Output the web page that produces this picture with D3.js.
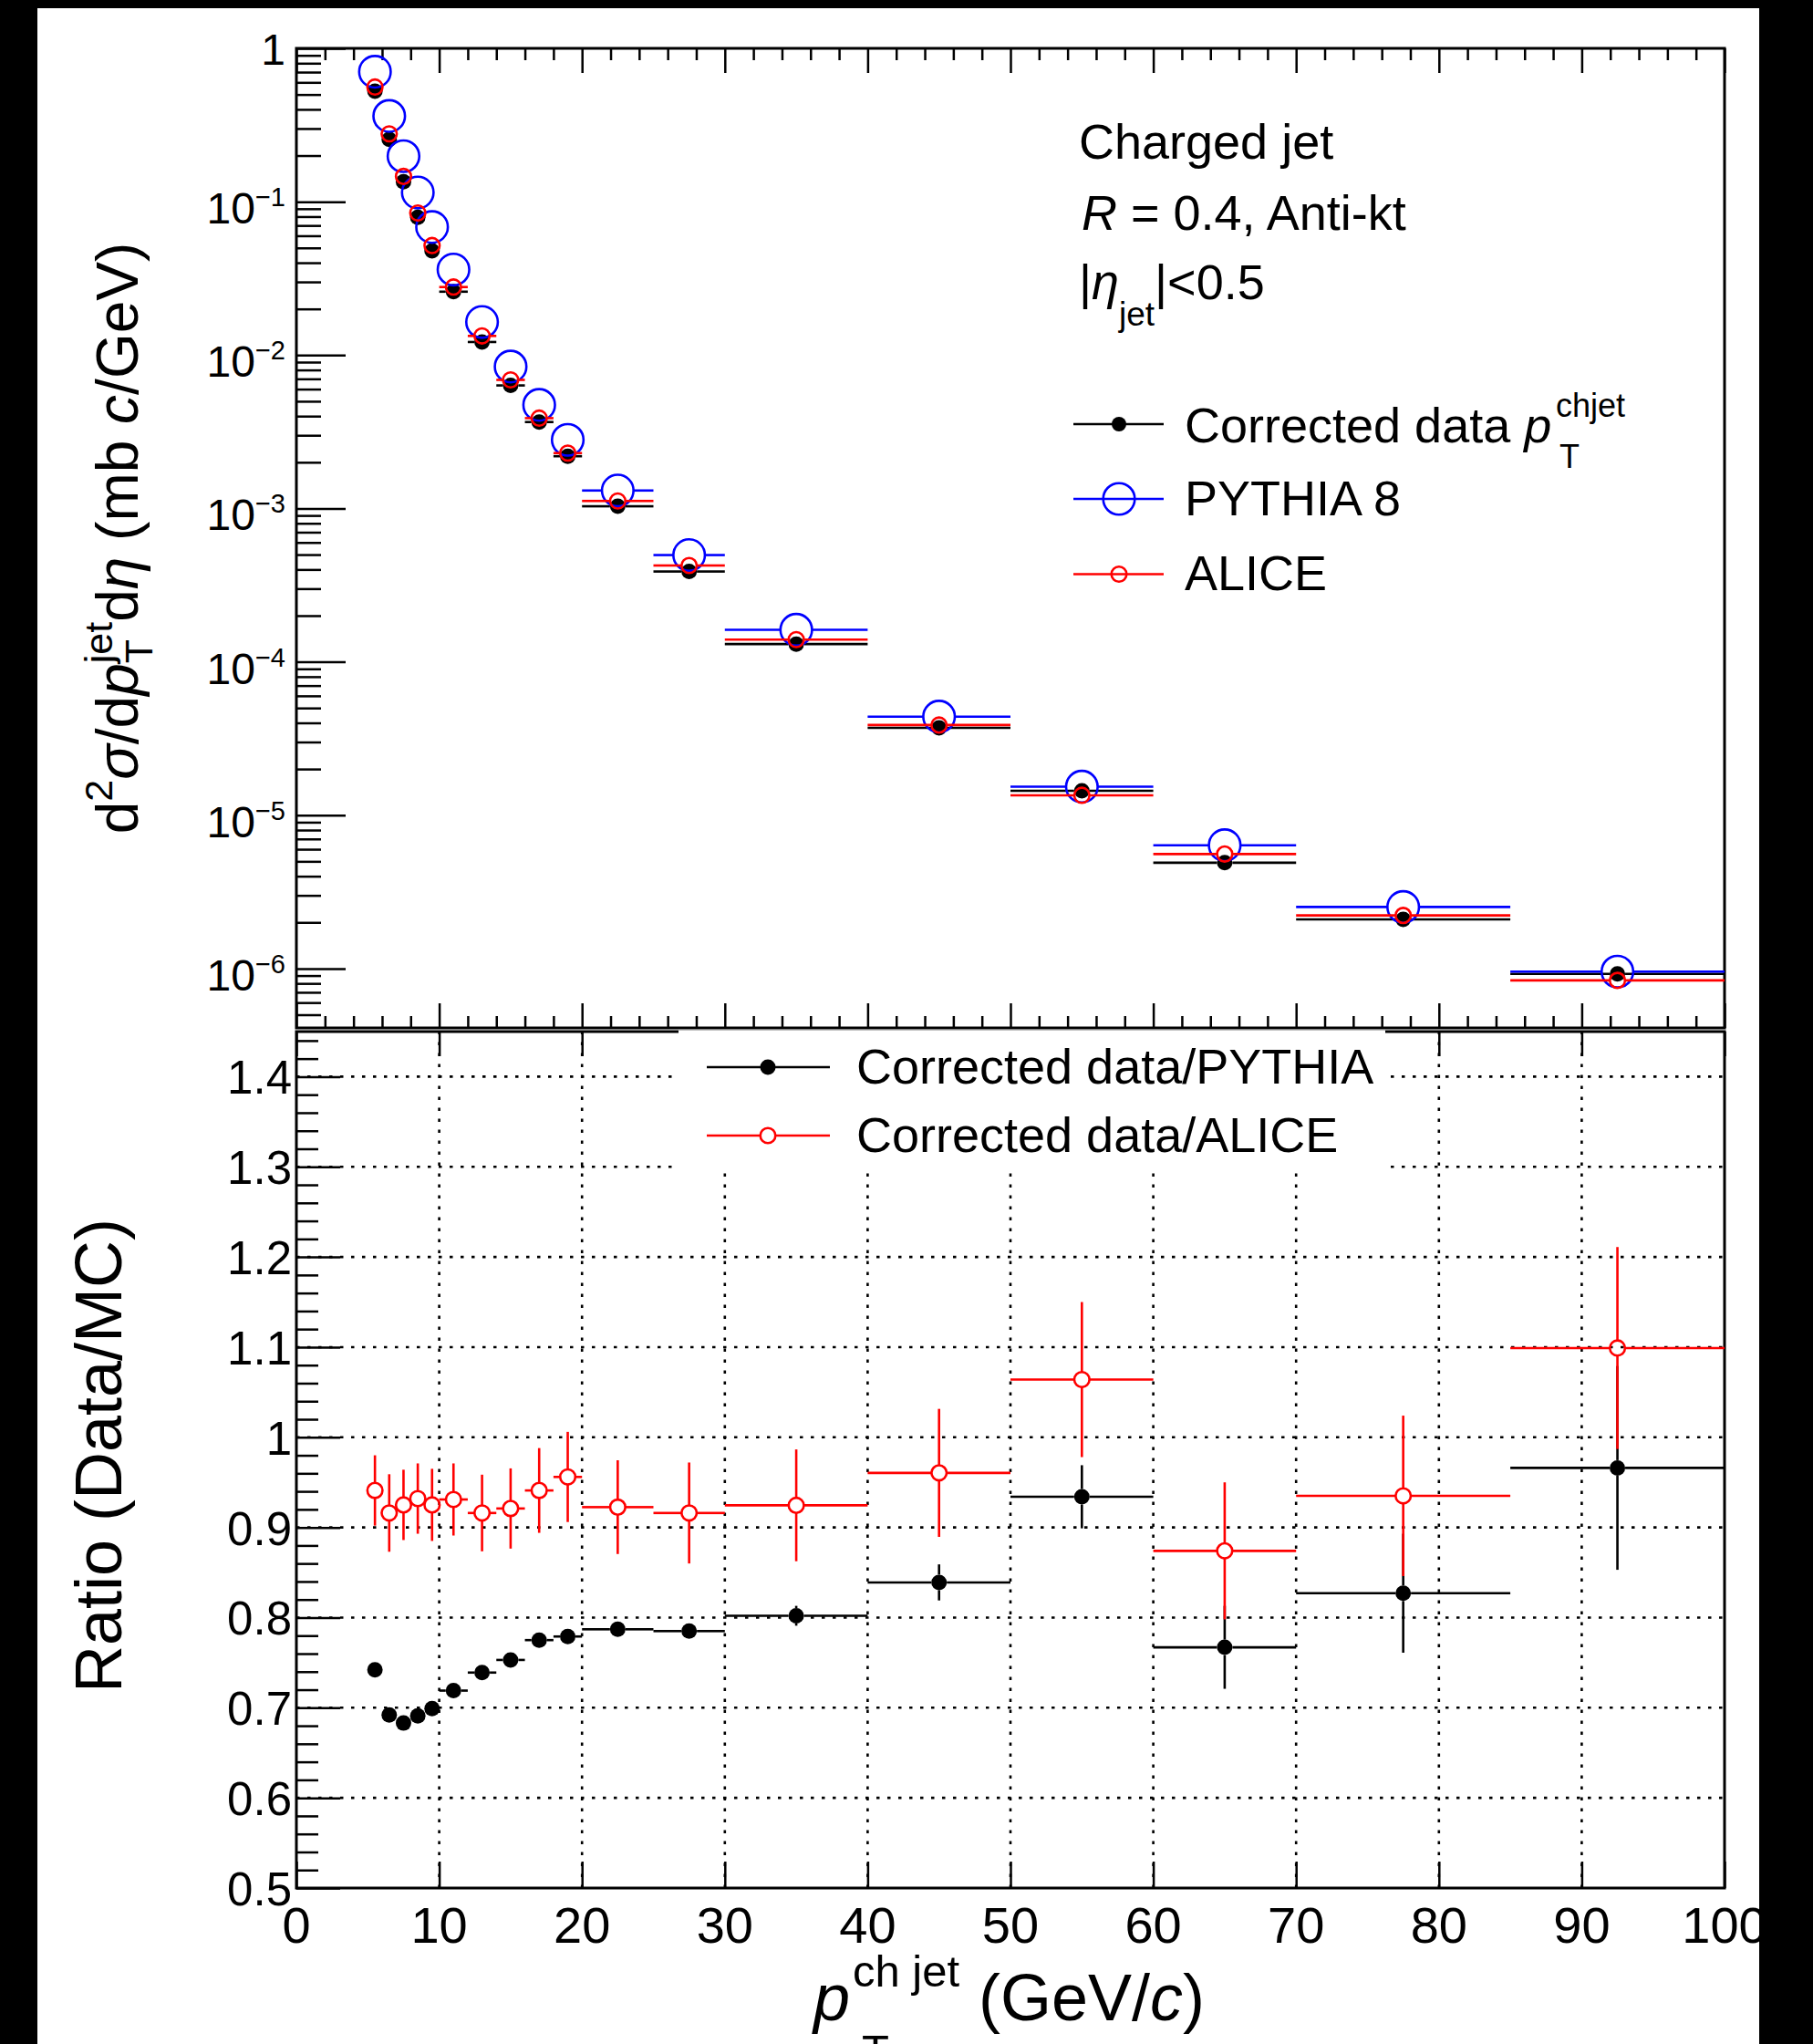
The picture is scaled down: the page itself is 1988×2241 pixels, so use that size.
<!DOCTYPE html>
<html><head><meta charset="utf-8">
<script src="https://cdn.jsdelivr.net/npm/d3@7"></script>
<style>
html,body{margin:0;padding:0;background:#fff;}
svg{display:block;}
text{font-family:"Liberation Sans", Arial, Helvetica, sans-serif;fill:#000;}
</style></head><body>
<svg id="c" width="1988" height="2241"></svg>
<script>
// ---------------- data ----------------
const binLow    = [5,6,7,8,9,10,12,14,16,18,20,25,30,40,50,60,70,85];
const binHigh   = [6,7,8,9,10,12,14,16,18,20,25,30,40,50,60,70,85,100];
const binCenter = [5.5,6.5,7.5,8.5,9.5,11,13,15,17,19,22.5,27.5,35,45,55,65,77.5,92.5];

const dataXsec   = [0.525,0.255,0.135,0.079,0.0478,0.0259,0.01217,0.00634,0.00366,0.00219,1.033e-3,3.88e-4,1.305e-4,3.71e-5,1.443e-5,4.90e-6,2.09e-6,9.23e-7];
const pythiaXsec = [0.704,0.362,0.198,0.1148,0.0684,0.0361,0.01643,0.00841,0.00473,0.0028,1.309e-3,4.966e-4,1.618e-4,4.39e-5,1.535e-5,6.37e-6,2.52e-6,9.55e-7];
const aliceXsec  = [0.559,0.277,0.1462,0.0844,0.0518,0.02777,0.01333,0.00689,0.00388,0.002296,1.119e-3,4.246e-4,1.396e-4,3.87e-5,1.348e-5,5.58e-6,2.22e-6,8.37e-7];

const ratioPythia    = [0.742,0.692,0.683,0.691,0.699,0.719,0.739,0.753,0.775,0.779,0.787,0.785,0.802,0.839,0.934,0.767,0.827,0.966];
const ratioPythiaErr = [0.003,0.003,0.003,0.003,0.003,0.004,0.004,0.004,0.005,0.005,0.006,0.006,0.011,0.020,0.035,0.046,0.066,0.113];
const ratioAlice     = [0.941,0.916,0.925,0.932,0.925,0.931,0.916,0.921,0.941,0.956,0.9225,0.916,0.9245,0.9605,1.064,0.874,0.935,1.099];
const ratioAliceErr  = [0.039,0.043,0.039,0.039,0.040,0.040,0.0425,0.0445,0.047,0.050,0.052,0.056,0.062,0.071,0.086,0.076,0.089,0.112];

const xMajorTicks = [0,10,20,30,40,50,60,70,80,90,100];
const xTickLabels = ["0","10","20","30","40","50","60","70","80","90","100"];
const xMinorTicks = [2,4,6,8,12,14,16,18,22,24,26,28,32,34,36,38,42,44,46,48,52,54,56,58,62,64,66,68,72,74,76,78,82,84,86,88,92,94,96,98];
const logMajorTicks = [1,1e-1,1e-2,1e-3,1e-4,1e-5,1e-6];
const logExponents  = [0,-1,-2,-3,-4,-5,-6];
const ratioMajorTicks = [0.5,0.6,0.7,0.8,0.9,1.0,1.1,1.2,1.3,1.4];
const ratioTickLabels = ["0.5","0.6","0.7","0.8","0.9","1","1.1","1.2","1.3","1.4"];
const ratioMinorTicks = [0.52,0.54,0.56,0.58,0.62,0.64,0.66,0.68,0.72,0.74,0.76,0.78,0.82,0.84,0.86,0.88,0.92,0.94,0.96,0.98,1.02,1.04,1.06,1.08,1.12,1.14,1.16,1.18,1.22,1.24,1.26,1.28,1.32,1.34,1.36,1.38,1.42,1.44];

// ---------------- layout ----------------
const svg = d3.select("#c");
const X0=325, X1=1891, UT=53, UB=1127, LT=1131, LB=2070;
const x  = d3.scaleLinear().domain([0,100]).range([X0,X1]);
const yU = d3.scaleLog().domain([4.1e-7,1]).range([UB,UT]);
const yL = d3.scaleLinear().domain([0.5,1.45]).range([LB,LT]);
const BLUE="#0000ff", RED="#ff0000", BLACK="#000000";

svg.append("rect").attr("width",1988).attr("height",2241).attr("fill","#fff");

function drawAxis(gen, transform, values, size){
  svg.append("g").attr("transform",transform)
    .call(gen.tickValues(values).tickSizeInner(size).tickSizeOuter(0).tickFormat(""))
    .call(g=>g.select(".domain").remove())
    .call(g=>g.selectAll("line").attr("stroke","#000").attr("stroke-width",2.5));
}
function seg(x1,y1,x2,y2,color,w){
  svg.append("line").attr("x1",x1).attr("y1",y1).attr("x2",x2).attr("y2",y2)
    .attr("stroke",color).attr("stroke-width",w||2.6);
}

// ---------------- lower pad grid ----------------
const grid = svg.append("g");
xMajorTicks.filter(v=>v>0 && v<100).forEach(v=>{
  grid.append("line").attr("x1",x(v)).attr("x2",x(v)).attr("y1",LB).attr("y2",LT)
    .attr("stroke","#000").attr("stroke-width",2.6).attr("stroke-dasharray","3.5 8.5");
});
ratioMajorTicks.filter(v=>v>0.5).forEach(v=>{
  grid.append("line").attr("x1",X0).attr("x2",X1).attr("y1",yL(v)).attr("y2",yL(v))
    .attr("stroke","#000").attr("stroke-width",2.6).attr("stroke-dasharray","3.5 8.5");
});

// ---------------- frames & axes ----------------
svg.append("rect").attr("x",X0).attr("y",UT).attr("width",X1-X0).attr("height",UB-UT)
  .attr("fill","none").attr("stroke","#000").attr("stroke-width",3);
svg.append("rect").attr("x",X0).attr("y",LT).attr("width",X1-X0).attr("height",LB-LT)
  .attr("fill","none").attr("stroke","#000").attr("stroke-width",3);

drawAxis(d3.axisBottom(x), `translate(0,${UB})`, xMajorTicks, -27);
drawAxis(d3.axisBottom(x), `translate(0,${UB})`, xMinorTicks, -13);
drawAxis(d3.axisTop(x), `translate(0,${UT})`, xMajorTicks, -27);
drawAxis(d3.axisTop(x), `translate(0,${UT})`, xMinorTicks, -13);
const logMinor = yU.ticks().filter(v=>!logMajorTicks.some(m=>Math.abs(v/m-1)<1e-6));
drawAxis(d3.axisLeft(yU), `translate(${X0},0)`, logMajorTicks, -54);
drawAxis(d3.axisLeft(yU), `translate(${X0},0)`, logMinor, -27);
drawAxis(d3.axisBottom(x), `translate(0,${LB})`, xMajorTicks, -29);
drawAxis(d3.axisTop(x), `translate(0,${LT})`, xMajorTicks, -27);
drawAxis(d3.axisLeft(yL), `translate(${X0},0)`, ratioMajorTicks, -48);
drawAxis(d3.axisLeft(yL), `translate(${X0},0)`, ratioMinorTicks, -24);

// tick labels
logMajorTicks.forEach((v,i)=>{
  const t = svg.append("text").attr("text-anchor","end").attr("x",313).attr("font-size",48);
  if(logExponents[i]===0){ t.attr("y",yU(v)+18).text("1"); }
  else{
    t.attr("y",yU(v)+24);
    t.append("tspan").text("10");
    t.append("tspan").attr("font-size",29).attr("dy",-19).text("\u2212"+Math.abs(logExponents[i]));
  }
});
ratioMajorTicks.forEach((v,i)=>{
  svg.append("text").attr("text-anchor","end").attr("x",320).attr("y",yL(v)+19)
    .attr("font-size",51).text(ratioTickLabels[i]);
});
xMajorTicks.forEach((v,i)=>{
  svg.append("text").attr("text-anchor","middle").attr("x",x(v)).attr("y",2130)
    .attr("font-size",56).text(xTickLabels[i]);
});

// ---------------- upper pad data ----------------
function drawXsec(vals, color, r, filled){
  const g = svg.append("g");
  binCenter.forEach((c,i)=>{
    const cx=x(c), cy=yU(vals[i]), xl=x(binLow[i]), xh=x(binHigh[i]);
    if(cx-r>xl) seg(xl,cy,cx-r,cy,color);
    if(xh>cx+r) seg(cx+r,cy,xh,cy,color);
    g.append("circle").attr("cx",cx).attr("cy",cy).attr("r",r)
      .attr("fill",filled?color:"none").attr("stroke",color).attr("stroke-width",filled?0:2.6);
  });
}
drawXsec(dataXsec, BLACK, 8.5, true);
drawXsec(pythiaXsec, BLUE, 17.3, false);
drawXsec(aliceXsec, RED, 8.3, false);

// ---------------- lower pad data ----------------
function drawRatio(vals, errs, color, r, filled){
  binCenter.forEach((c,i)=>{
    const cx=x(c), cy=yL(vals[i]), xl=x(binLow[i]), xh=x(binHigh[i]);
    const yt=yL(vals[i]+errs[i]), yb=yL(vals[i]-errs[i]);
    if(cx-r>xl) seg(xl,cy,cx-r,cy,color);
    if(xh>cx+r) seg(cx+r,cy,xh,cy,color);
    if(cy-r>yt) seg(cx,cy-r,cx,yt,color);
    if(yb>cy+r) seg(cx,cy+r,cx,yb,color);
    svg.append("circle").attr("cx",cx).attr("cy",cy).attr("r",r)
      .attr("fill",filled?color:"none").attr("stroke",color).attr("stroke-width",filled?0:2.6);
  });
}
drawRatio(ratioPythia, ratioPythiaErr, BLACK, 8.5, true);
drawRatio(ratioAlice, ratioAliceErr, RED, 8.3, false);

// ---------------- lower legend ----------------
svg.append("rect").attr("x",744).attr("y",1129.5).attr("width",775).attr("height",152).attr("fill","#fff");
seg(775,1170,910,1170,BLACK);
svg.append("circle").attr("cx",842).attr("cy",1170).attr("r",8.5).attr("fill",BLACK);
svg.append("text").attr("x",939).attr("y",1188).attr("font-size",54).text("Corrected data/PYTHIA");
seg(775,1245,910,1245,RED);
svg.append("circle").attr("cx",842).attr("cy",1245).attr("r",8.3).attr("fill","#fff").attr("stroke",RED).attr("stroke-width",2.6);
svg.append("text").attr("x",939).attr("y",1263).attr("font-size",54).text("Corrected data/ALICE");

// ---------------- upper texts ----------------
svg.append("text").attr("x",1183).attr("y",174).attr("font-size",54).text("Charged jet");
{
  const t=svg.append("text").attr("x",1186).attr("y",252).attr("font-size",54);
  t.append("tspan").attr("font-style","italic").text("R");
  t.append("tspan").text(" = 0.4, Anti-kt");
}
{
  const t=svg.append("text").attr("x",1183).attr("y",328).attr("font-size",54);
  t.append("tspan").text("|");
  t.append("tspan").attr("font-style","italic").text("\u03B7");
  t.append("tspan").attr("font-size",37).attr("dy",29).text("jet");
  t.append("tspan").attr("dy",-29).text("|<0.5");
}
seg(1177,465,1276,465,BLACK);
svg.append("circle").attr("cx",1227).attr("cy",465).attr("r",8).attr("fill",BLACK);
{
  const t=svg.append("text").attr("x",1299).attr("y",485).attr("font-size",54);
  t.append("tspan").text("Corrected data ");
  t.append("tspan").attr("font-style","italic").text("p");
  svg.append("text").attr("x",1706).attr("y",457).attr("font-size",36).text("chjet");
  svg.append("text").attr("x",1710).attr("y",513).attr("font-size",36).text("T");
}
seg(1177,547,1276,547,BLUE);
svg.append("circle").attr("cx",1227).attr("cy",547).attr("r",17.3).attr("fill","none").attr("stroke",BLUE).attr("stroke-width",2.6);
svg.append("text").attr("x",1299).attr("y",565).attr("font-size",54).text("PYTHIA 8");
seg(1177,629.5,1276,629.5,RED);
svg.append("circle").attr("cx",1227).attr("cy",629.5).attr("r",8.3).attr("fill","none").attr("stroke",RED).attr("stroke-width",2.6);
svg.append("text").attr("x",1299).attr("y",647).attr("font-size",54).text("ALICE");

// ---------------- axis titles ----------------
{
  const t=svg.append("text").attr("transform","translate(151,590) rotate(-90)")
    .attr("text-anchor","middle").attr("font-size",64);
  t.append("tspan").text("d");
  t.append("tspan").attr("font-size",43).attr("dy",-28).text("2");
  t.append("tspan").attr("dy",28).attr("font-style","italic").text("\u03C3");
  t.append("tspan").text("/d");
  t.append("tspan").attr("font-style","italic").text("p");
  const sup=t.append("tspan").attr("font-size",43).attr("dy",-28).text("jet");
  const sub=t.append("tspan").attr("font-size",43).attr("dy",44).text("T");
  const rest=t.append("tspan").attr("dy",-16).text("d");
  t.append("tspan").attr("font-style","italic").text("\u03B7");
  t.append("tspan").text(" (mb ");
  t.append("tspan").attr("font-style","italic").text("c");
  t.append("tspan").text("/GeV)");
  const supL=sup.node().getComputedTextLength(), subL=sub.node().getComputedTextLength();
  sub.attr("dx",-supL);
  rest.attr("dx",Math.max(0,supL-subL));
}
svg.append("text").attr("transform","translate(133,1596) rotate(-90)")
  .attr("text-anchor","middle").attr("font-size",72).text("Ratio (Data/MC)");
{
  svg.append("text").attr("x",892).attr("y",2215).attr("font-size",72).attr("font-style","italic").text("p");
  svg.append("text").attr("x",935).attr("y",2178).attr("font-size",49).text("ch jet");
  svg.append("text").attr("x",945).attr("y",2265).attr("font-size",49).text("T");
  const t=svg.append("text").attr("x",1073).attr("y",2215).attr("font-size",72);
  t.append("tspan").text("(GeV/");
  t.append("tspan").attr("font-style","italic").text("c");
  t.append("tspan").text(")");
}

// ---------------- black borders ----------------
svg.append("rect").attr("x",0).attr("y",0).attr("width",41).attr("height",2241).attr("fill","#000");
svg.append("rect").attr("x",0).attr("y",0).attr("width",1988).attr("height",9).attr("fill","#000");
svg.append("rect").attr("x",1929).attr("y",0).attr("width",59).attr("height",2241).attr("fill","#000");
</script>
</body></html>
